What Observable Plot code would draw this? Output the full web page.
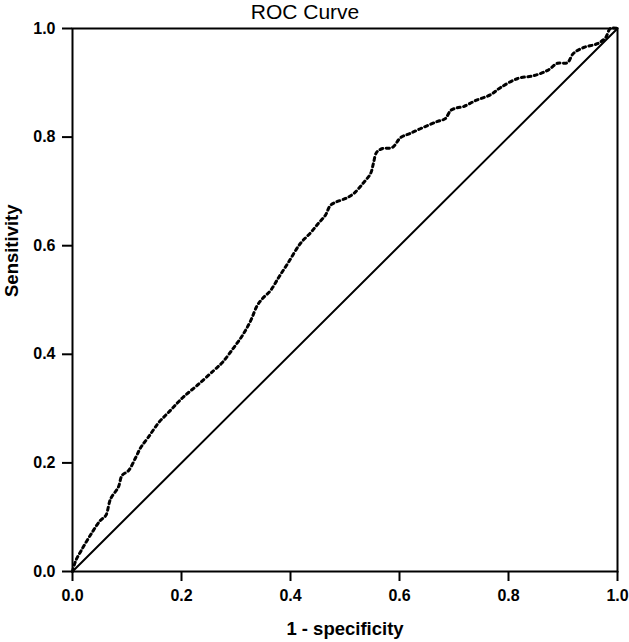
<!DOCTYPE html>
<html>
<head>
<meta charset="utf-8">
<script src="https://cdn.jsdelivr.net/npm/d3@7"></script>
<script src="https://cdn.jsdelivr.net/npm/@observablehq/plot@0.6"></script>
<style>
  html, body { margin: 0; padding: 0; background: #fff; }
  #chart svg { display: block; }
  #chart svg [aria-label$="tick label"],
  #chart svg [aria-label$="tick label"] text {
    font-size: 16px !important;
    font-weight: bold !important;
    font-family: 'Liberation Sans', Arial, sans-serif !important;
    fill: #000 !important;
  }
</style>
</head>
<body>
<div id="chart"></div>
<script>
const titleText = "ROC Curve";
const xLabel = "1 - specificity";
const yLabel = "Sensitivity";
const tickValues = [0, 0.2, 0.4, 0.6, 0.8, 1.0];

const fpr = [0, 0.006, 0.018, 0.036, 0.051, 0.061, 0.070, 0.084, 0.091, 0.103, 0.116, 0.125, 0.139, 0.158, 0.180, 0.202, 0.229, 0.259, 0.275, 0.295, 0.312, 0.327, 0.339, 0.349, 0.363, 0.378, 0.396, 0.418, 0.437, 0.451, 0.464, 0.473, 0.483, 0.501, 0.516, 0.534, 0.547, 0.552, 0.558, 0.569, 0.587, 0.602, 0.620, 0.644, 0.670, 0.684, 0.694, 0.706, 0.717, 0.739, 0.767, 0.785, 0.817, 0.846, 0.872, 0.890, 0.908, 0.919, 0.938, 0.963, 0.978, 0.987, 1];
const tpr = [0, 0.020, 0.042, 0.072, 0.094, 0.103, 0.134, 0.155, 0.177, 0.186, 0.210, 0.228, 0.247, 0.274, 0.297, 0.320, 0.343, 0.370, 0.385, 0.411, 0.435, 0.462, 0.490, 0.503, 0.517, 0.541, 0.569, 0.604, 0.624, 0.641, 0.656, 0.674, 0.680, 0.687, 0.696, 0.716, 0.733, 0.751, 0.772, 0.779, 0.781, 0.799, 0.807, 0.818, 0.829, 0.834, 0.849, 0.854, 0.856, 0.867, 0.878, 0.891, 0.908, 0.913, 0.923, 0.936, 0.937, 0.954, 0.965, 0.972, 0.983, 1.0, 1];

const diagX = [0, 1];
const diagY = [0, 1];

const roc = fpr.map((x, i) => ({x, y: tpr[i]}));
const diag = diagX.map((x, i) => ({x, y: diagY[i]}));

const fmt = d3.format(".1f");

const chart = Plot.plot({
  width: 629,
  height: 642,
  marginLeft: 72,
  marginRight: 12,
  marginTop: 28,
  marginBottom: 71,
  style: {fontFamily: "'Liberation Sans', Arial, sans-serif", fontSize: "16px", background: "#fff", color: "#000"},
  x: {domain: [0, 1], ticks: tickValues, tickFormat: fmt},
  y: {domain: [0, 1], ticks: tickValues, tickFormat: fmt},
  marks: [
    Plot.frame({stroke: "#000", strokeWidth: 2}),
    Plot.axisX({ticks: tickValues, tickFormat: fmt, tickSize: 10, tickPadding: 8, strokeWidth: 2, label: null}),
    Plot.axisY({ticks: tickValues, tickFormat: fmt, tickSize: 10, tickPadding: 7, strokeWidth: 2, label: null}),
    Plot.line(diag, {x: "x", y: "y", stroke: "#000", strokeWidth: 2}),
    Plot.line(roc, {x: "x", y: "y", stroke: "#000", strokeWidth: 3, strokeDasharray: "3,3.5", curve: "catmull-rom"}),
    Plot.text([titleText], {frameAnchor: "top", lineAnchor: "middle", dx: -40, dy: -16, text: d => d, fontSize: 21, fontWeight: "normal", fill: "#000"}),
    Plot.text([xLabel], {frameAnchor: "bottom", dy: 63, text: d => d, fontSize: 18.5, fontWeight: "bold", fill: "#000"}),
    Plot.text([yLabel], {frameAnchor: "left", dx: -60, dy: -3, rotate: -90, text: d => d, fontSize: 18.5, fontWeight: "bold", fill: "#000"})
  ]
});
document.getElementById("chart").appendChild(chart);
</script>
</body>
</html>
